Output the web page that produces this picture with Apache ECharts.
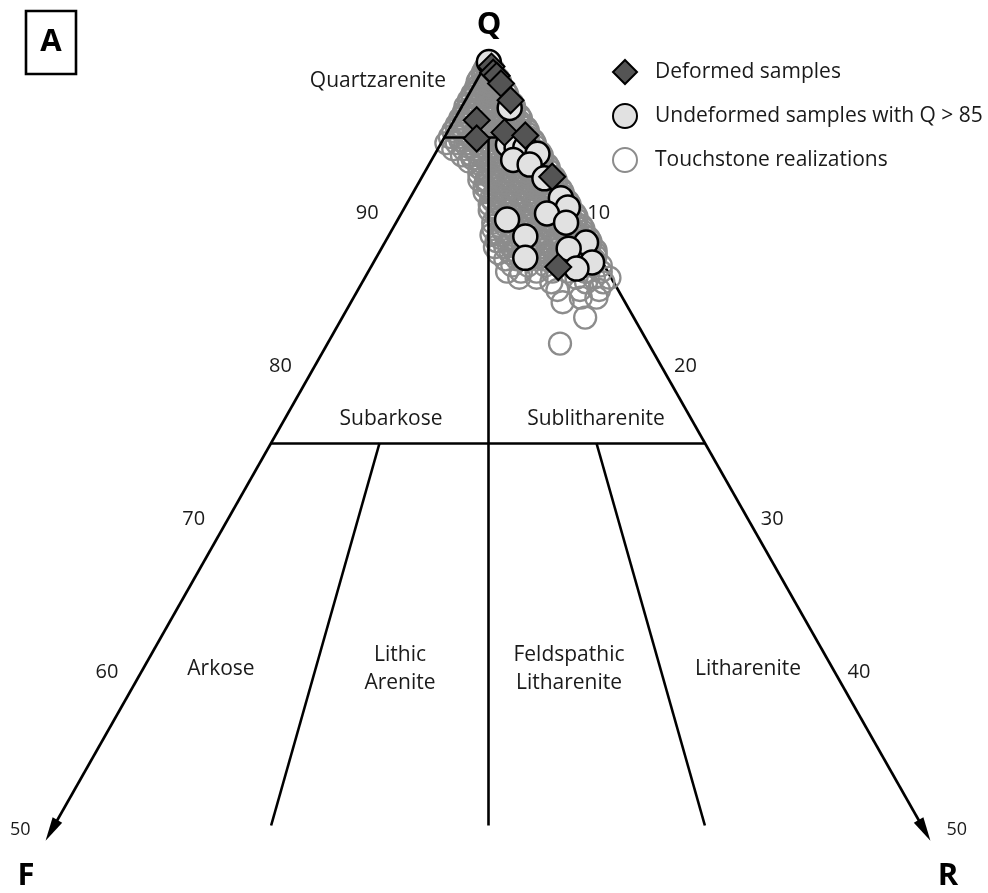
<!DOCTYPE html>
<html>
<head>
<meta charset="utf-8">
<title>QFR ternary diagram</title>
<script src="https://cdn.jsdelivr.net/npm/echarts@6/dist/echarts.min.js"></script>
<style>
  html, body { margin: 0; padding: 0; background: #fff; }
  #chart { width: 988px; height: 893px; }
</style>
</head>
<body>
<div id="chart"></div>
<script>
// Compositions in percent, each point given as [Q, F]; R = 100 - Q - F.
const deformedSamples = [
  [99.6, 0.0], [99.2, 0.1], [99.0, 0.0], [98.5, 0.0], [97.4, 0.0],
  [96.1, 2.6], [94.9, 3.2], [95.3, 1.4], [95.1, 0.3], [92.4, 0.1],
  [86.5, 2.7]
];

const undeformedSamples = [
  [99.9, 0.0], [96.9, 0.3], [94.5, 1.6], [94.3, 1.2], [94.3, 0.7],
  [93.9, 0.2], [93.5, 1.8], [93.2, 1.0], [92.3, 0.6], [91.0, 0.3],
  [90.4, 0.2], [90.0, 1.6], [89.4, 0.8], [89.6, 4.1], [88.5, 3.6],
  [87.1, 4.3], [88.1, 0.3], [87.7, 1.5], [86.8, 0.6], [86.4, 1.7]
];

const touchstoneRealizations = [
  [99.8, 0.0], [99.8, 0.1], [99.6, 0.05], [99.6, 0.3],
  [99.4, 0.0], [99.4, 0.3], [99.4, 0.5], [99.2, 0.1], [99.2, 0.4], [99.2, 0.7],
  [99.0, 0.1], [99.0, 0.4], [99.0, 0.8], [98.8, 0.0], [98.8, 0.3], [98.8, 0.7], [98.8, 1.1],
  [98.6, 0.0], [98.6, 0.5], [98.6, 0.9], [98.6, 1.3], [98.4, 0.1], [98.4, 0.4], [98.4, 0.8], [98.4, 1.3],
  [98.2, 0.2], [98.2, 0.6], [98.2, 1.1], [98.2, 1.6],
  [98.0, 0.0], [98.0, 0.3], [98.0, 0.7], [98.0, 1.2], [98.0, 1.7],
  [97.8, 0.0], [97.8, 0.4], [97.8, 0.9], [97.8, 1.5], [97.8, 2.0],
  [97.6, 0.2], [97.6, 0.5], [97.6, 1.0], [97.6, 1.5], [97.6, 2.1],
  [97.4, 0.1], [97.4, 0.7], [97.4, 1.2], [97.4, 1.8], [97.4, 2.4],
  [97.2, 0.0], [97.2, 0.4], [97.2, 0.9], [97.2, 1.4], [97.2, 2.0], [97.2, 2.5],
  [97.0, 0.0], [97.0, 0.5], [97.0, 1.0], [97.0, 1.6], [97.0, 2.2], [97.0, 2.8],
  [96.8, 0.1], [96.8, 0.6], [96.8, 1.1], [96.8, 1.6], [96.8, 2.2], [96.8, 2.8],
  [96.6, 0.2], [96.6, 0.8], [96.6, 1.3], [96.6, 1.9], [96.6, 2.5], [96.6, 3.1],
  [96.4, 0.0], [96.4, 0.4], [96.4, 0.9], [96.4, 1.4], [96.4, 2.0], [96.4, 2.6], [96.4, 3.2],
  [96.2, 0.0], [96.2, 0.5], [96.2, 1.1], [96.2, 1.7], [96.2, 2.3], [96.2, 2.9], [96.2, 3.5],
  [96.0, 0.2], [96.0, 0.6], [96.0, 1.1], [96.0, 1.7], [96.0, 2.3], [96.0, 2.9], [96.0, 3.6],
  [95.8, 0.3], [95.8, 0.8], [95.8, 1.4], [95.8, 2.0], [95.8, 2.6], [95.8, 3.3], [95.8, 3.9],
  [95.6, 0.0], [95.6, 0.5], [95.6, 1.0], [95.6, 1.6], [95.6, 2.2], [95.6, 2.8], [95.6, 3.4], [95.6, 4.0],
  [95.4, 0.0], [95.4, 0.6], [95.4, 1.2], [95.4, 1.8], [95.4, 2.4], [95.4, 3.0], [95.4, 3.7], [95.4, 4.3],
  [95.2, 0.1], [95.2, 0.6], [95.2, 1.2], [95.2, 1.8], [95.2, 2.5], [95.2, 3.1], [95.2, 3.8],
  [95.0, 0.2], [95.0, 0.9], [95.0, 1.5], [95.0, 2.1], [95.0, 2.8], [95.0, 3.4], [95.0, 4.1], [95.0, 4.7],
  [94.8, 0.0], [94.8, 0.4], [94.8, 0.9], [94.8, 1.5], [94.8, 2.2], [94.8, 2.8], [94.8, 3.5], [94.8, 4.2],
  [94.6, 0.0], [94.6, 0.5], [94.6, 1.1], [94.6, 1.8], [94.6, 2.5], [94.6, 3.1], [94.6, 3.8], [94.6, 4.5], [94.6, 5.1],
  [94.4, 0.1], [94.4, 0.6], [94.4, 1.2], [94.4, 1.9], [94.4, 2.6], [94.4, 3.3], [94.4, 4.0],
  [94.2, 0.3], [94.2, 0.9], [94.2, 1.5], [94.2, 2.2], [94.2, 2.9], [94.2, 3.6], [94.2, 4.3], [94.2, 4.9],
  [94.0, 0.0], [94.0, 0.4], [94.0, 1.0], [94.0, 1.6], [94.0, 2.3], [94.0, 3.0], [94.0, 3.7],
  [93.8, 0.0], [93.8, 0.6], [93.8, 1.2], [93.8, 1.9], [93.8, 2.6], [93.8, 3.3], [93.8, 4.0], [93.8, 4.6],
  [93.6, 0.1], [93.6, 0.6], [93.6, 1.3], [93.6, 2.0], [93.6, 2.7], [93.6, 3.4], [93.6, 4.1],
  [93.4, 0.2], [93.4, 0.9], [93.4, 1.6], [93.4, 2.3], [93.4, 3.0], [93.4, 3.7], [93.4, 4.4],
  [93.2, 0.0], [93.2, 0.4], [93.2, 1.0], [93.2, 1.7], [93.2, 2.4], [93.2, 3.1], [93.2, 3.8],
  [93.0, 0.0], [93.0, 0.5], [93.0, 1.2], [93.0, 1.9], [93.0, 2.6], [93.0, 3.3], [93.0, 4.0],
  [92.8, 0.1], [92.8, 0.6], [92.8, 1.2], [92.8, 1.9], [92.8, 2.6], [92.8, 3.3], [92.8, 3.9],
  [92.6, 0.3], [92.6, 0.9], [92.6, 1.5], [92.6, 2.2], [92.6, 2.9], [92.6, 3.6], [92.6, 4.2],
  [92.4, 0.0], [92.4, 0.4], [92.4, 1.0], [92.4, 1.6], [92.4, 2.3], [92.4, 3.0], [92.4, 3.7],
  [92.2, 0.0], [92.2, 0.6], [92.2, 1.2], [92.2, 1.9], [92.2, 2.6], [92.2, 3.3], [92.2, 4.0], [92.2, 4.4],
  [92.0, 0.1], [92.0, 0.6], [92.0, 1.3], [92.0, 2.0], [92.0, 2.7], [92.0, 3.4], [92.0, 4.0],
  [91.8, 0.2], [91.8, 0.8], [91.8, 1.5], [91.8, 2.2], [91.8, 2.9], [91.8, 3.6], [91.8, 4.3],
  [91.6, 0.0], [91.6, 0.4], [91.6, 1.0], [91.6, 1.6], [91.6, 2.3], [91.6, 3.0], [91.6, 3.7], [91.6, 4.2],
  [91.4, 0.0], [91.4, 0.5], [91.4, 1.1], [91.4, 1.8], [91.4, 2.5], [91.4, 3.2], [91.4, 3.9], [91.4, 4.5],
  [91.2, 0.1], [91.2, 0.6], [91.2, 1.2], [91.2, 1.9], [91.2, 2.6], [91.2, 3.3], [91.2, 4.0],
  [91.0, 0.3], [91.0, 0.9], [91.0, 1.5], [91.0, 2.2], [91.0, 2.9], [91.0, 3.6], [91.0, 4.3],
  [90.8, 0.0], [90.8, 0.4], [90.8, 1.0], [90.8, 1.6], [90.8, 2.3], [90.8, 3.0], [90.8, 3.7], [90.8, 4.3],
  [90.6, 0.0], [90.6, 0.6], [90.6, 1.2], [90.6, 1.9], [90.6, 2.6], [90.6, 3.3], [90.6, 4.0], [90.6, 4.6],
  [90.4, 0.1], [90.4, 0.6], [90.4, 1.2], [90.4, 1.9], [90.4, 2.6], [90.4, 3.3], [90.4, 4.0],
  [90.2, 0.2], [90.2, 0.8], [90.2, 1.5], [90.2, 2.2], [90.2, 2.9], [90.2, 3.6], [90.2, 4.3], [90.2, 4.8],
  [90.0, 0.0], [90.0, 0.4], [90.0, 1.0], [90.0, 1.6], [90.0, 2.3], [90.0, 3.0], [90.0, 3.7], [90.0, 4.4],
  [89.8, 0.0], [89.8, 0.5], [89.8, 1.1], [89.8, 1.8], [89.8, 2.5], [89.8, 3.2], [89.8, 3.9], [89.8, 4.6],
  [89.6, 0.1], [89.6, 0.6], [89.6, 1.2], [89.6, 1.9], [89.6, 2.6], [89.6, 3.3], [89.6, 4.0], [89.6, 4.6],
  [89.4, 0.3], [89.4, 0.9], [89.4, 1.5], [89.4, 2.2], [89.4, 2.9], [89.4, 3.6], [89.4, 4.3], [89.4, 5.0],
  [89.2, 0.0], [89.2, 0.4], [89.2, 1.0], [89.2, 1.6], [89.2, 2.3], [89.2, 3.0], [89.2, 3.7], [89.2, 4.4],
  [89.0, 0.0], [89.0, 0.6], [89.0, 1.2], [89.0, 1.9], [89.0, 2.6], [89.0, 3.3], [89.0, 4.0], [89.0, 4.7], [89.0, 5.2],
  [88.8, 0.1], [88.8, 0.6], [88.8, 1.2], [88.8, 1.9], [88.8, 2.6], [88.8, 3.3], [88.8, 4.0], [88.8, 4.7],
  [88.6, 0.2], [88.6, 0.8], [88.6, 1.5], [88.6, 2.2], [88.6, 2.9], [88.6, 3.6], [88.6, 4.3], [88.6, 5.0], [88.6, 5.5],
  [88.4, 0.0], [88.4, 0.4], [88.4, 1.0], [88.4, 1.6], [88.4, 2.3], [88.4, 3.0], [88.4, 3.7], [88.4, 4.4], [88.4, 5.1],
  [88.2, 0.0], [88.2, 0.5], [88.2, 1.1], [88.2, 1.8], [88.2, 2.5], [88.2, 3.2], [88.2, 3.9], [88.2, 4.6], [88.2, 5.4],
  [88.0, 0.1], [88.0, 0.6], [88.0, 1.2], [88.0, 1.9], [88.0, 2.6], [88.0, 3.3], [88.0, 4.0], [88.0, 4.8],
  [87.8, 0.3], [87.8, 0.9], [87.8, 1.6], [87.8, 2.3], [87.8, 3.0], [87.8, 3.7], [87.8, 4.4], [87.8, 5.1], [87.8, 5.7],
  [87.6, 0.0], [87.6, 0.4], [87.6, 1.0], [87.6, 1.7], [87.6, 2.4], [87.6, 3.1], [87.6, 3.9], [87.6, 4.7],
  [87.4, 0.1], [87.4, 0.7], [87.4, 1.3], [87.4, 2.0], [87.4, 2.8], [87.4, 3.5], [87.4, 4.3], [87.4, 5.0], [87.4, 5.7],
  [87.2, 0.2], [87.2, 0.8], [87.2, 1.5], [87.2, 2.2], [87.2, 3.0], [87.2, 3.8], [87.2, 4.6],
  [87.0, 0.4], [87.0, 1.0], [87.0, 1.8], [87.0, 2.5], [87.0, 3.3], [87.0, 4.1], [87.0, 4.8], [87.0, 5.5],
  [86.6, 0.2], [86.6, 0.9], [86.6, 1.6], [86.6, 2.6], [86.6, 3.4], [86.6, 4.4], [86.6, 5.3],
  [86.2, 0.4], [86.2, 1.3], [86.2, 2.3], [86.2, 3.2], [86.2, 4.1], [86.2, 5.0], [86.2, 5.8],
  [85.8, 0.1], [85.8, 1.0], [85.8, 2.0], [85.8, 4.3], [85.8, 5.3],
  [85.5, 0.6], [85.5, 1.6], [85.5, 3.6],
  [85.0, 1.1], [85.0, 2.2], [85.0, 3.5],
  [84.5, 1.5], [84.5, 2.4],
  [84.2, 3.6],
  [83.2, 2.8],
  [81.5, 5.1]
];

// Folk classification fields, truncated at Q = 50
const quartzBoundaries = [95, 75];                   // Q of the horizontal class boundaries
const spokes = [[0.75, 75], [0.5, 95], [0.25, 75]];  // [F/(F+R), Q where the spoke starts]
const qFloor = 50;                                   // lowest Q shown
const arrowTipQ = 49;                                // side axes end in arrows just past Q = 50
const leftTicks = [90, 80, 70, 60, 50];              // Q along the Q-F side
const rightTicks = [10, 20, 30, 40, 50];             // R along the Q-R side

const seriesNames = ['Deformed samples', 'Undeformed samples with Q > 85', 'Touchstone realizations'];
const regionNames = ['Quartzarenite', 'Subarkose', 'Sublitharenite', 'Arkose',
                     'Lithic\nArenite', 'Feldspathic\nLitharenite', 'Litharenite'];

// Ternary [Q, F] -> plane [x, Q], x = (R - F) / 2
function toPlane(p) {
  const q = p[0], f = p[1], r = 100 - q - f;
  return [(r - f) / 2, q];
}
// point on the spoke with feldspar fraction ff at quartz level q
function spokePoint(ff, q) {
  const rest = 100 - q;
  return [((1 - ff) * rest - ff * rest) / 2, q];
}

const FONT = '"Open Sans", "Noto Sans", sans-serif';
const INK = '#1a1a1a';

// plot frame: x in plane units, y in Q
const X_MIN = -28, X_MAX = 28, Y_MIN = 46, Y_MAX = 103;
const PX_X = 17.35, PX_Y = 15.3, APEX_X = 488, APEX_Y = 60.5;
const gridBox = {
  left: APEX_X + X_MIN * PX_X,
  width: (X_MAX - X_MIN) * PX_X,
  top: APEX_Y - (Y_MAX - 100) * PX_Y,
  height: (Y_MAX - Y_MIN) * PX_Y
};

// page layout of the field names, in pixels
const regionAnchors = [[378, 81], [391, 419], [596, 419], [221, 669], [400, 669], [569, 669], [748, 669]];

// structural lines
const edgeEndHalf = (100 - qFloor) / 2;
const rightEdge = [{ coords: [[0, 100], [edgeEndHalf, qFloor]] }];
const leftEdge = [{ coords: [[0, 100], [-edgeEndHalf, qFloor]] }];
const innerLines = quartzBoundaries.map(q => ({ coords: [[-(100 - q) / 2, q], [(100 - q) / 2, q]] }))
  .concat(spokes.map(s => ({ coords: [spokePoint(s[0], s[1]), spokePoint(s[0], qFloor)] })));

const arrowTips = [[-(100 - arrowTipQ) / 2, arrowTipQ], [(100 - arrowTipQ) / 2, arrowTipQ]];

const lineStyle = { color: '#000', width: 2.6, opacity: 1, cap: 'butt' };

function linesSeries(data, z) {
  return {
    type: 'lines', coordinateSystem: 'cartesian2d', polyline: false,
    data: data, z: z, silent: true, symbol: ['none', 'none'],
    lineStyle: lineStyle, animation: false
  };
}

function tickItem(x, q, text, isEnd, side) {
  const dx = side < 0 ? -34 : (isEnd ? 35 : 24);
  return {
    value: [x, q, text],
    label: { offset: [dx, isEnd ? 4 : 0], fontSize: isEnd ? 18 : 20 }
  };
}

const option = {
  animation: false,
  backgroundColor: '#fff',
  grid: Object.assign({ containLabel: false }, gridBox),
  xAxis: { type: 'value', min: X_MIN, max: X_MAX, show: false },
  yAxis: { type: 'value', min: Y_MIN, max: Y_MAX, show: false },
  legend: {
    orient: 'vertical', left: 607, top: 54,
    itemWidth: 24, itemHeight: 24, itemGap: 18,
    selectedMode: false,
    data: seriesNames,
    textStyle: { fontFamily: FONT, fontSize: 21, color: INK, padding: [0, 0, 0, 13] }
  },
  graphic: [
    { type: 'rect', shape: { x: 26, y: 11, width: 50, height: 63 },
      style: { fill: 'none', stroke: '#000', lineWidth: 2.6 } },
    { type: 'text', x: 51, y: 42, style: { text: 'A', font: 'bold 31px ' + FONT, fill: '#000', align: 'center', verticalAlign: 'middle' } },
    { type: 'text', x: 489, y: 25, style: { text: 'Q', font: 'bold 31px ' + FONT, fill: '#000', align: 'center', verticalAlign: 'middle' } },
    { type: 'text', x: 26, y: 876, style: { text: 'F', font: 'bold 31px ' + FONT, fill: '#000', align: 'center', verticalAlign: 'middle' } },
    { type: 'text', x: 948, y: 876, style: { text: 'R', font: 'bold 31px ' + FONT, fill: '#000', align: 'center', verticalAlign: 'middle' } }
  ].concat(regionNames.map((name, i) => ({
    type: 'text', x: regionAnchors[i][0], y: regionAnchors[i][1], z: 10,
    style: { text: name, font: '21px ' + FONT, fill: INK, align: 'center', verticalAlign: 'middle', lineHeight: 28 }
  }))),
  series: [
    linesSeries(rightEdge, 1),
    {
      name: seriesNames[2], type: 'scatter', z: 2, silent: true,
      symbol: 'circle', symbolSize: 22,
      itemStyle: { color: 'rgba(255,255,255,0)', borderColor: '#8c8c8c', borderWidth: 2.3, opacity: 1 },
      data: touchstoneRealizations.map(toPlane)
    },
    linesSeries(leftEdge.concat(innerLines), 3),
    {
      type: 'custom', z: 3, silent: true,
      data: arrowTips,
      renderItem: function (params, api) {
        const tip = api.coord([api.value(0), api.value(1)]);
        const apex = api.coord([0, 100]);
        let dx = tip[0] - apex[0], dy = tip[1] - apex[1];
        const len = Math.hypot(dx, dy); dx /= len; dy /= len;
        const L = 24, hw = 5.5;
        const bx = tip[0] - dx * L, by = tip[1] - dy * L;
        return { type: 'polygon', shape: { points: [tip, [bx - dy * hw, by + dx * hw], [bx + dy * hw, by - dx * hw]] },
                 style: { fill: '#000' } };
      }
    },
    {
      name: seriesNames[1], type: 'scatter', z: 4, silent: true,
      symbol: 'circle', symbolSize: 24,
      itemStyle: { color: '#e1e1e1', borderColor: '#000', borderWidth: 2.5, opacity: 1 },
      data: undeformedSamples.map(toPlane)
    },
    {
      name: seriesNames[0], type: 'scatter', z: 5, silent: true,
      symbol: 'diamond', symbolSize: 26,
      itemStyle: { color: '#545454', borderColor: '#000', borderWidth: 2, opacity: 1 },
      data: deformedSamples.map(toPlane)
    },
    {
      type: 'scatter', z: 6, silent: true, symbol: 'circle', symbolSize: 1,
      itemStyle: { color: 'rgba(0,0,0,0)', borderWidth: 0 },
      data: leftTicks.map(q => tickItem(-(100 - q) / 2, q, String(q), q === qFloor, -1))
        .concat(rightTicks.map(r => tickItem(r / 2, 100 - r, String(r), r === 100 - qFloor, 1))),
      label: {
        show: true, position: 'inside', formatter: p => p.value[2],
        fontFamily: FONT, fontSize: 20, color: INK, opacity: 1,
        textBorderWidth: 0, textBorderColor: 'transparent', textShadowBlur: 0
      }
    }
  ]
};

const chart = echarts.init(document.getElementById('chart'), null, { renderer: 'canvas' });
chart.setOption(option);
</script>
</body>
</html>
